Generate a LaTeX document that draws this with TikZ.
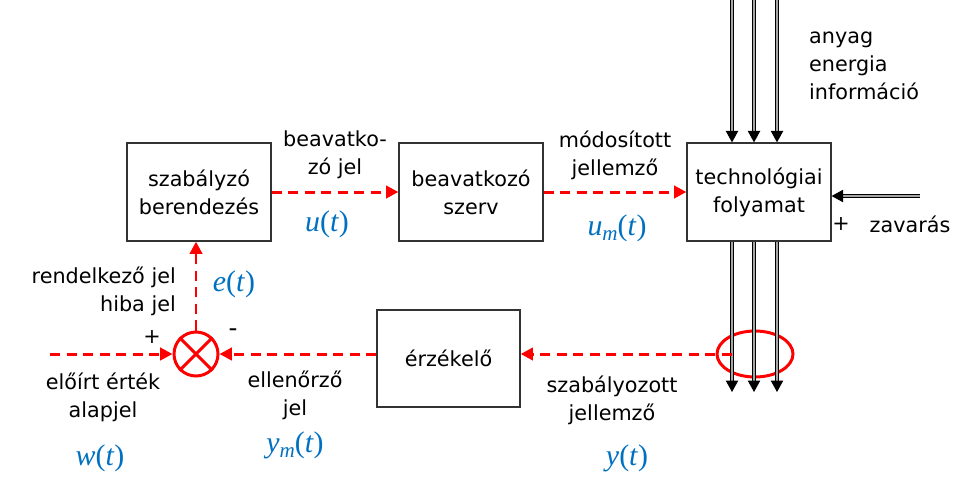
\documentclass[tikz,border=0pt]{standalone}
\usepackage{fontspec}
\setmainfont{DejaVu Sans}
\newfontfamily\mathserif{Liberation Serif}
\usepackage{tikz}
\usetikzlibrary{arrows.meta, positioning, shapes.geometric, calc}
\definecolor{sigblue}{RGB}{0,112,192}
\newcommand{\sigfn}[2]{\textit{#1}#2(\textit{t})}
\newcommand{\sub}[1]{\raisebox{-0.4ex}{\fontsize{12}{12}\selectfont\textit{#1}}}

\begin{document}
\begin{tikzpicture}[
  font=\fontsize{11.8}{15.8}\selectfont,
  block/.style={draw=black!80, line width=0.7pt, minimum width=2.88cm,
                minimum height=1.96cm, align=center},
  sig/.style={red, line width=1.7pt, dash pattern=on 5.8pt off 3.6pt,
              -{Triangle[length=7pt,width=7pt]}},
  flow/.style={draw=black, double=black!35, double distance=0.9pt, line width=0.6pt,
               -{Triangle[length=6.5pt,width=7pt]}},
  lbl/.style={align=center},
  mathlbl/.style={text=sigblue, font=\mathserif\fontsize{17}{20}\selectfont}
]
  \useasboundingbox (0,0) rectangle (19.44,-9.78);

  % blocks
  \node[block] (szab) at (3.98,-3.84) {szabályzó\\berendezés};
  \node[block] (beav) at (9.42,-3.84) {beavatkozó\\szerv};
  \node[block] (tech) at (15.18,-3.84) {technológiai\\folyamat};
  \node[block, minimum width=2.86cm, minimum height=1.94cm] (erz) at (8.97,-7.17) {érzékelő};

  % summing point and measuring ring
  \node[draw=red, line width=1.7pt, circle, minimum size=0.88cm] (sum) at (3.92,-7.08) {};
  \draw[red, line width=1.7pt] (sum.north west) -- (sum.south east)
                               (sum.south west) -- (sum.north east);
  \node[draw=red, line width=1.7pt, ellipse, minimum width=1.52cm,
        minimum height=0.92cm] (ring) at (15.10,-7.08) {};

  % material / energy / information flows
  \foreach \x [count=\i] in {14.64,15.08,15.54} {
    \coordinate (in\i) at (\x,0);
    \coordinate (out\i) at (\x,-7.84);
    \draw[flow] (in\i) -- (in\i |- tech.north);
    \draw[flow] (in\i |- tech.south) -- (out\i);
  }
  \coordinate (zav) at (18.40,-3.92);
  \draw[flow] (zav) -- (zav -| tech.east);

  % signal path
  \coordinate (ref) at (1.0,-7.08);
  \coordinate (tap) at (14.64,-7.08);
  \draw[sig] (ref) -- (sum.west);
  \draw[sig] (sum.north) -- (sum |- szab.south);
  \draw[sig] (szab.east |- szab) -- (beav.west);
  \draw[sig] (beav.east) -- (tech.west);
  \draw[sig] (tap) -- (erz.east |- tap);
  \draw[sig] (erz.west |- tap) -- (sum.east);

  % labels
  \node[lbl] (ujel) at (6.70,-3.10) {beavatko-\\zó jel};
  \node[mathlbl] (u) at (6.54,-4.48) {\sigfn{u}{}};
  \node[lbl] (mjel) at (12.30,-3.10) {módosított\\jellemző};
  \node[mathlbl] (um) at (12.34,-4.56) {\sigfn{u}{\sub{m}}};
  \node[align=left, anchor=west] (aei) at (16.06,-1.32) {anyag\\energia\\információ};
  \node (zplus) at (16.82,-4.48) {+};
  \node (zlbl) at (18.20,-4.48) {zavarás};
  \node[align=right, anchor=east] (ejel) at (3.64,-5.82) {rendelkező jel\\hiba jel};
  \node[mathlbl] (e) at (4.68,-5.68) {\sigfn{e}{}};
  \node (splus) at (3.04,-6.74) {+};
  \node[font=\fontsize{14}{14}\selectfont] (sminus) at (4.66,-6.66) {-};
  \node[lbl] (wjel) at (2.06,-7.94) {előírt érték\\alapjel};
  \node[mathlbl] (w) at (2.00,-9.16) {\sigfn{w}{}};
  \node[lbl] (ymjel) at (5.90,-7.90) {ellenőrző\\jel};
  \node[mathlbl] (ym) at (5.90,-8.90) {\sigfn{y}{\sub{m}}};
  \node[lbl] (yjel) at (12.24,-8.00) {szabályozott\\jellemző};
  \node[mathlbl] (y) at (12.54,-9.16) {\sigfn{y}{}};
\end{tikzpicture}
\end{document}
